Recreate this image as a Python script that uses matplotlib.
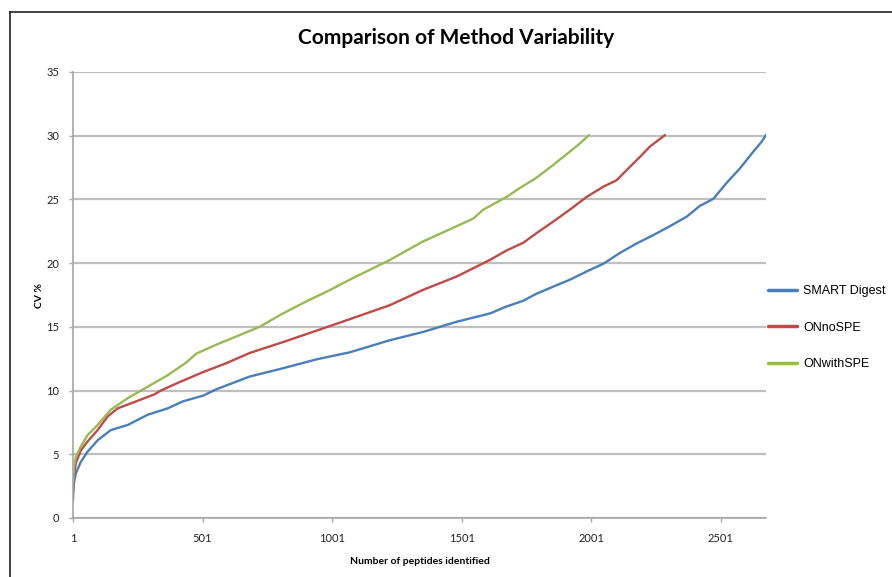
import numpy as np
import matplotlib
matplotlib.use('Agg')
import matplotlib.pyplot as plt
from matplotlib.lines import Line2D

# peptide rank vs CV %
smart_n  = [1, 4, 12, 31, 57, 96, 147, 212, 289, 366, 425, 503, 554, 683, 811, 941, 1069,
            1224, 1352, 1482, 1610, 1675, 1739, 1790, 1854, 1919, 1984, 2048, 2112, 2177,
            2241, 2305, 2370, 2421, 2473, 2524, 2576, 2627, 2660, 2676]
smart_cv = [1.4, 2.7, 3.5, 4.4, 5.2, 6.1, 6.9, 7.3, 8.1, 8.6, 9.15, 9.6, 10.1, 11.1, 11.75, 12.45,
            13.0, 13.95, 14.6, 15.4, 16.05, 16.6, 17.05, 17.6, 18.15, 18.7, 19.35, 19.95, 20.8,
            21.55, 22.2, 22.9, 23.65, 24.5, 25.05, 26.3, 27.45, 28.75, 29.55, 30.05]

nospe_n  = [1, 5, 12, 31, 57, 96, 134, 173, 238, 315, 340, 405, 503, 593, 683, 811, 941, 1069,
            1224, 1352, 1482, 1546, 1610, 1675, 1739, 1790, 1854, 1919, 1984, 2048, 2099,
            2138, 2190, 2228, 2286]
nospe_cv = [2.2, 3.3, 4.3, 5.3, 6.0, 6.9, 7.95, 8.6, 9.1, 9.7, 10.0, 10.6, 11.45, 12.15, 12.95,
            13.8, 14.7, 15.6, 16.7, 17.9, 18.95, 19.6, 20.25, 21.0, 21.6, 22.35, 23.25, 24.2,
            25.2, 26.0, 26.5, 27.3, 28.35, 29.15, 30.05]

withspe_n  = [1, 5, 12, 31, 57, 96, 147, 212, 289, 366, 438, 477, 554, 644, 721, 811, 902,
              979, 1069, 1224, 1352, 1482, 1546, 1585, 1675, 1726, 1790, 1854, 1919, 1958, 1993]
withspe_cv = [2.7, 4.0, 4.8, 5.6, 6.5, 7.3, 8.5, 9.4, 10.3, 11.2, 12.2, 12.9, 13.6, 14.35, 15.0,
              16.05, 17.0, 17.75, 18.7, 20.25, 21.7, 22.9, 23.5, 24.2, 25.2, 25.9, 26.7, 27.7,
              28.75, 29.4, 30.05]

series = [('SMART Digest', smart_n, smart_cv, '#4A7EBB'),
          ('ONnoSPE', nospe_n, nospe_cv, '#BE4B48'),
          ('ONwithSPE', withspe_n, withspe_cv, '#98B954')]

x_ticks = [1, 501, 1001, 1501, 2001, 2501]
y_ticks = [0, 5, 10, 15, 20, 25, 30, 35]

fig = plt.figure(figsize=(8.92, 5.77), dpi=100)
ax = fig.add_axes([73/892, 1-518/577, (766-73)/892, (518-72)/577])

for name, n, cv, col in series:
    ax.plot(n, cv, color=col, lw=1.7, label=name, solid_capstyle='round')

ax.set_xlim(1, 2676)
ax.set_ylim(0, 35)
ax.set_xticks(x_ticks)
ax.set_yticks(y_ticks)
ax.yaxis.grid(True, color='#BFBFBF', lw=1.6)
ax.set_axisbelow(True)

for s in ['top', 'right']:
    ax.spines[s].set_visible(False)
for s in ['left', 'bottom']:
    ax.spines[s].set_color('#A6A6A6')
    ax.spines[s].set_linewidth(1.2)
ax.tick_params(axis='both', colors='#A6A6A6', length=3, width=1.0, labelsize=8,
               labelcolor='#222222')
ax.tick_params(axis='y', pad=7)
ax.tick_params(axis='x', pad=8)
for lbl in ax.get_xticklabels() + ax.get_yticklabels():
    lbl.set_family('Lato')

fig.text(456/892, 1-38/577, 'Comparison of Method Variability', ha='center', va='center',
         fontsize=15, fontweight='bold', family='Lato')
fig.text(40/892, 1-295/577, 'CV %', ha='center', va='center', rotation=90,
         fontsize=7.5, fontweight='bold', family='Lato')
fig.text(420/892, 1-561/577, 'Number of peptides identified', ha='center', va='center',
         fontsize=7.5, fontweight='bold', family='Lato')

leg = ax.legend(loc='upper left', bbox_to_anchor=(757/892, 1-274/577),
                bbox_transform=fig.transFigure, frameon=False, handlelength=2.3,
                handletextpad=0.5, labelspacing=1.95,
                prop={'family': 'Liberation Sans', 'size': 9})
for h in leg.get_lines():
    h.set_linewidth(2.5)

# slide frame lines
fig.add_artist(Line2D([10/892, 1], [1-12/577, 1-12/577], color='#222222', lw=1.2,
                      transform=fig.transFigure))
fig.add_artist(Line2D([10/892, 10/892], [0, 1-12/577], color='#222222', lw=1.2,
                      transform=fig.transFigure))

fig.savefig('out.png', dpi=100)
